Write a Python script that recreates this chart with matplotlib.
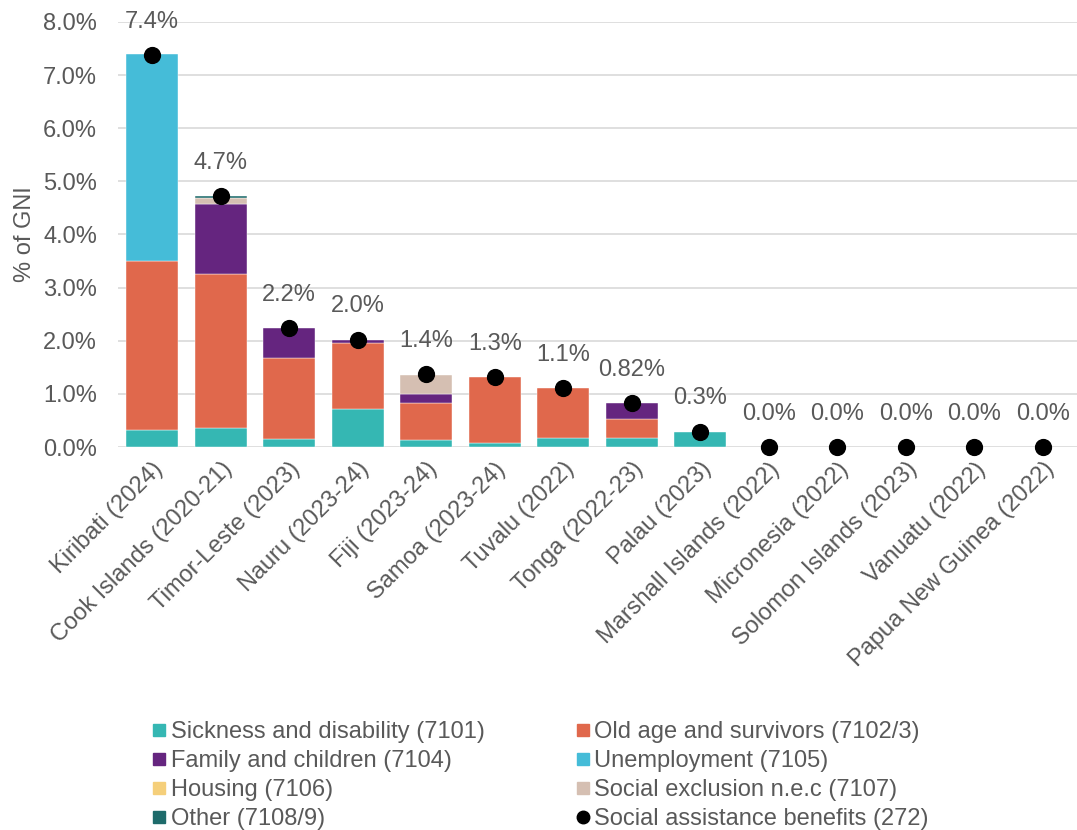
import matplotlib.pyplot as plt
from matplotlib.lines import Line2D
import numpy as np

plt.rcParams['font.family'] = ['Liberation Sans', 'DejaVu Sans']

countries = ['Kiribati (2024)', 'Cook Islands (2020-21)', 'Timor-Leste (2023)', 'Nauru (2023-24)',
             'Fiji (2023-24)', 'Samoa (2023-24)', 'Tuvalu (2022)', 'Tonga (2022-23)', 'Palau (2023)',
             'Marshall Islands (2022)', 'Micronesia (2022)', 'Solomon Islands (2023)',
             'Vanuatu (2022)', 'Papua New Guinea (2022)']

sickness = [0.32, 0.36, 0.15, 0.72, 0.14, 0.07, 0.17, 0.17, 0.29, 0, 0, 0, 0, 0]
old_age = [3.18, 2.90, 1.53, 1.24, 0.69, 1.25, 0.94, 0.36, 0, 0, 0, 0, 0, 0]
family = [0, 1.32, 0.56, 0.06, 0.17, 0, 0, 0.29, 0, 0, 0, 0, 0, 0]
unemployment = [3.90, 0, 0, 0, 0, 0, 0, 0, 0, 0, 0, 0, 0, 0]
housing = [0, 0, 0, 0, 0, 0, 0, 0, 0, 0, 0, 0, 0, 0]
social_excl = [0, 0.11, 0, 0, 0.36, 0, 0, 0, 0, 0, 0, 0, 0, 0]
other = [0, 0.04, 0, 0, 0, 0, 0, 0, 0, 0, 0, 0, 0, 0]
social_assist = [7.38, 4.72, 2.24, 2.02, 1.37, 1.31, 1.11, 0.82, 0.29, 0, 0, 0, 0, 0]
assist_labels = ['7.4%', '4.7%', '2.2%', '2.0%', '1.4%', '1.3%', '1.1%', '0.82%', '0.3%',
                 '0.0%', '0.0%', '0.0%', '0.0%', '0.0%']

series = [
    ('Sickness and disability (7101)', sickness, '#35B7B3'),
    ('Old age and survivors (7102/3)', old_age, '#E0684C'),
    ('Family and children (7104)', family, '#65257F'),
    ('Unemployment (7105)', unemployment, '#45BCD8'),
    ('Housing (7106)', housing, '#F5CF7A'),
    ('Social exclusion n.e.c (7107)', social_excl, '#D5BFB2'),
    ('Other (7108/9)', other, '#1E6B6B'),
]

text_col = '#595959'
fs = 17
fig = plt.figure(figsize=(10.77, 8.3), dpi=100)
ax = fig.add_axes([118 / 1077, 1 - 447 / 830, (1077 - 118) / 1077, 425 / 830])

x = np.arange(len(countries))
bottom = np.zeros(len(countries))
handles = {}
for name, vals, col in series:
    vals = np.array(vals)
    lw = np.where(vals > 0, 0.3, 0)
    ax.bar(x, vals, 0.76, bottom=bottom, color=col, edgecolor='white', linewidth=lw, zorder=2)
    bottom += vals
    handles[name] = Line2D([], [], marker='s', linestyle='none', color=col, markersize=9)

ax.scatter(x, social_assist, s=130, color='black', zorder=4, clip_on=False)
handles['Social assistance benefits (272)'] = Line2D([], [], marker='o', linestyle='none',
                                                     color='black', markersize=9)
for xi, yi, lab in zip(x, social_assist, assist_labels):
    ax.annotate(lab, (xi, yi), xytext=(0, 24), textcoords='offset points', ha='center',
                va='center', fontsize=fs, color=text_col)

ax.set_xlim(-0.5, len(countries) - 0.5)
ax.set_ylim(0, 8)
ax.set_yticks(np.arange(0, 8.5, 1.0))
ax.set_yticklabels([f'{v:.1f}%' for v in np.arange(0, 8.5, 1.0)])
ax.set_xticks(x)
ax.set_xticklabels(countries, rotation=45, ha='right', rotation_mode='anchor')
ax.tick_params(axis='y', length=0, labelsize=fs, colors=text_col, pad=15)
ax.tick_params(axis='x', length=0, labelsize=fs, colors=text_col, pad=8)
ax.grid(axis='y', color='#D9D9D9', linewidth=1.2, zorder=0)
for s in ax.spines.values():
    s.set_visible(False)
ax.set_ylabel('% of GNI', fontsize=fs, color=text_col, labelpad=5)

order = ['Sickness and disability (7101)', 'Family and children (7104)', 'Housing (7106)',
         'Other (7108/9)', 'Old age and survivors (7102/3)', 'Unemployment (7105)',
         'Social exclusion n.e.c (7107)', 'Social assistance benefits (272)']
leg = fig.legend([handles[k] for k in order], order, ncol=2, loc='upper left',
                 bbox_to_anchor=(153 / 1077, 1 - 721 / 830), frameon=False, fontsize=fs,
                 handlelength=0.5, handletextpad=0.25, labelspacing=0.3, columnspacing=3.9,
                 borderaxespad=0, borderpad=0)
for t in leg.get_texts():
    t.set_color(text_col)

fig.savefig('out.png', dpi=100)
